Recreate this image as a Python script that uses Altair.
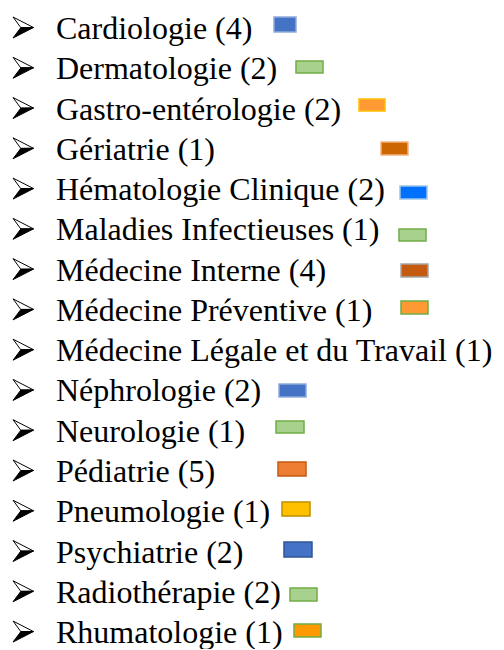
import altair as alt
import pandas as pd

# ---- data ----
specialites = [
    "Cardiologie (4)", "Dermatologie (2)", "Gastro-entérologie (2)", "Gériatrie (1)",
    "Hématologie Clinique (2)", "Maladies Infectieuses (1)", "Médecine Interne (4)",
    "Médecine Préventive (1)", "Médecine Légale et du Travail (1)", "Néphrologie (2)",
    "Neurologie (1)", "Pédiatrie (5)", "Pneumologie (1)", "Psychiatrie (2)",
    "Radiothérapie (2)", "Rhumatologie (1)",
]
# colour swatch next to each line (None = no swatch)
swatch_fill = ["#4472C4", "#A9D18E", "#FF9933", "#CC6600", "#0070FF", "#A9D18E",
               "#C55A11", "#FF9933", None, "#4472C4", "#A9D18E", "#ED7D31",
               "#FFC000", "#4472C4", "#A9D18E", "#FF9900"]
swatch_edge = ["#8FAADC", "#70AD47", "#FFC000", "#F4B183", "#9DC3E6", "#70AD47",
               "#A5A5A5", "#70AD47", None, "#8FAADC", "#70AD47", "#C55A11",
               "#BF9000", "#2F5597", "#70AD47", "#70AD47"]
swatch_left = [274, 296, 359, 381, 400, 399, 401, 401, None, 279, 276, 278, 282, 284, 290, 294]
swatch_right = [296, 323, 385, 408, 427, 426, 428, 428, None, 306, 304, 306, 310, 312, 317, 321]
# height of swatch top / bottom above the text baseline (px)
swatch_rise_top = [22, 18.3, 20.5, 17.8, 14.1, 11.4, 16.6, 19.9, None, 17.4, 20.7, 20, 20.2, 20.5, 14.8, 19]
swatch_rise_bot = [7, 6.3, 8.5, 4.8, 1.1, -0.6, 3.6, 6.9, None, 4.4, 8.7, 6, 6.2, 5.5, 1.8, 6]

LINE_PX = 40.27  # line spacing in px

rows = list(range(len(specialites)))
df = pd.DataFrame({"row": rows, "label": specialites})

sw = pd.DataFrame({
    "row": rows,
    "fill": swatch_fill, "edge": swatch_edge,
    "x0": swatch_left, "x1": swatch_right,
    "rt": swatch_rise_top, "rb": swatch_rise_bot,
}).dropna()
sw["y0"] = sw["row"] - sw["rt"] / LINE_PX
sw["y1"] = sw["row"] - sw["rb"] / LINE_PX

W, H = 488, 641
yscale = alt.Scale(domain=[-31 / LINE_PX, (H - 31) / LINE_PX], reverse=True, nice=False, zero=False)
xscale = alt.Scale(domain=[8, 8 + W], nice=False, zero=False)

y_enc = alt.Y("row:Q", scale=yscale, axis=None)

upper = "M -0.95 -1 L 1 0 L -0.2 0.02 Z"
lower = "M -0.2 0 L 1 0 L -0.95 1 Z"

arrow_top = alt.Chart(df).mark_point(
    shape=upper, size=441, filled=True, fill="white", stroke="black", strokeWidth=1,
    yOffset=-11.5, opacity=1,
).encode(x=alt.value(15), y=y_enc)

arrow_bot = alt.Chart(df).mark_point(
    shape=lower, size=441, filled=True, fill="black", stroke="black", strokeWidth=1,
    yOffset=-11.5, opacity=1,
).encode(x=alt.value(15), y=y_enc)

text = alt.Chart(df).mark_text(
    align="left", baseline="alphabetic", font="Liberation Serif", fontSize=32, color="#000000",
).encode(x=alt.value(48), y=y_enc, text="label:N")

rects = alt.Chart(sw).mark_rect(strokeWidth=1.5).encode(
    x=alt.X("x0:Q", scale=xscale, axis=None),
    x2="x1:Q",
    y=alt.Y("y0:Q", scale=yscale, axis=None),
    y2="y1:Q",
    fill=alt.Fill("fill:N", scale=None),
    stroke=alt.Stroke("edge:N", scale=None),
)

chart = alt.layer(arrow_top, arrow_bot, text, rects).properties(
    width=W, height=H, padding=0, autosize=alt.AutoSizeParams(type="none"),
).configure(background="white").configure_view(stroke=None, strokeWidth=0)

chart.save("out.html", embed_options={"renderer": "svg", "actions": False})
